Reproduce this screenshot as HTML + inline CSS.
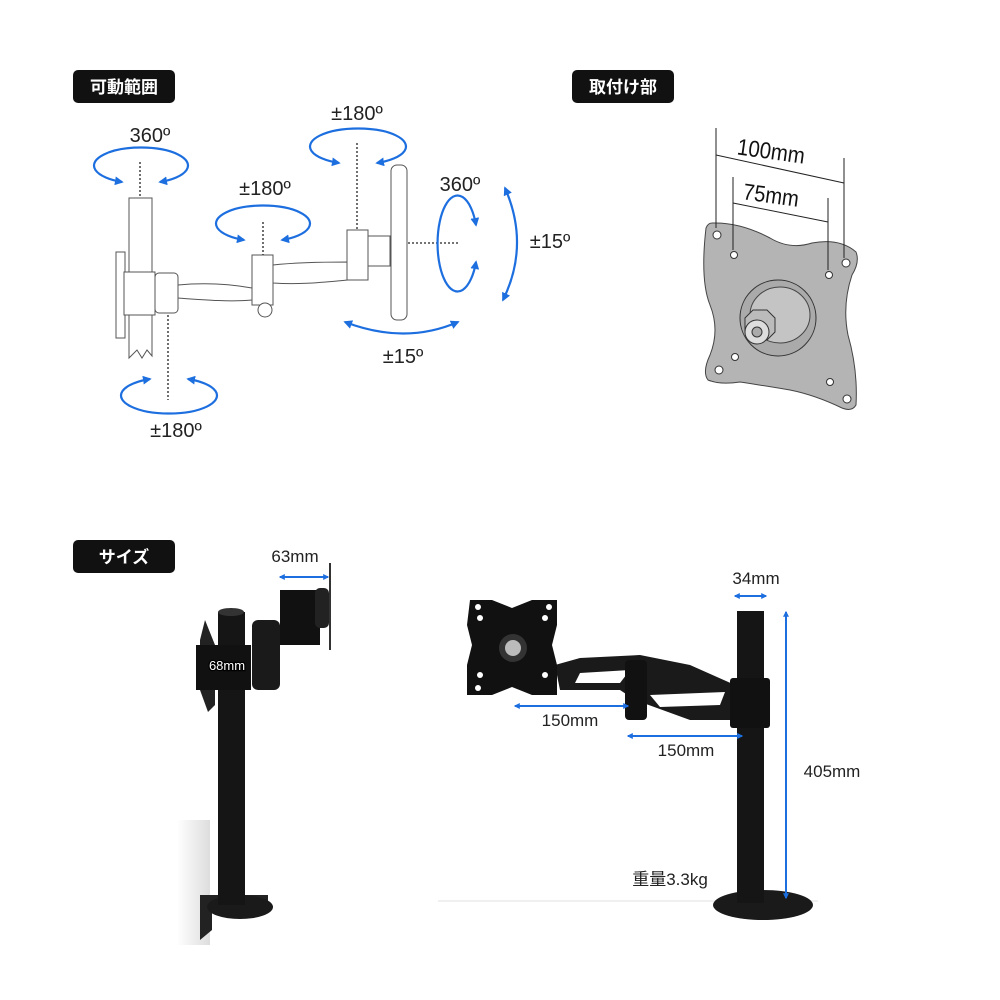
<!DOCTYPE html>
<html><head><meta charset="utf-8"><style>
body{margin:0;background:#fff}
svg{display:block}
text{font-family:"Liberation Sans","Noto Sans CJK JP",sans-serif}
</style></head><body>
<svg width="1000" height="1000" viewBox="0 0 1000 1000" xmlns="http://www.w3.org/2000/svg">
<defs>
<marker id="a" viewBox="0 0 10 10" refX="8" refY="5" markerWidth="4" markerHeight="4" orient="auto-start-reverse"><path d="M0,0L10,5L0,10z" fill="#1d6fe0"/></marker>
<marker id="s" viewBox="0 0 10 10" refX="8" refY="5" markerWidth="3" markerHeight="3" orient="auto-start-reverse"><path d="M0,0L10,5L0,10z" fill="#1d6fe0"/></marker>
<linearGradient id="desk" x1="0" x2="1"><stop offset="0" stop-color="#fff"/><stop offset="1" stop-color="#ddd"/></linearGradient>
</defs>
<g font-weight="bold" font-size="17" fill="#fff">
<rect x="73" y="70" width="102" height="33" rx="5" fill="#111"/><text x="124" y="93" text-anchor="middle">可動範囲</text>
<rect x="572" y="70" width="102" height="33" rx="5" fill="#111"/><text x="623" y="93" text-anchor="middle">取付け部</text>
<rect x="73" y="540" width="102" height="33" rx="5" fill="#111"/><text x="124" y="563" text-anchor="middle">サイズ</text>
</g>
<g fill="#fff" stroke="#555" stroke-width="1">
<path d="M129,198H152V356L147,350L142,358L137,350L129,358Z"/>
<rect x="116" y="252" width="9" height="86"/>
<rect x="124" y="272" width="31" height="43"/>
<rect x="155" y="273" width="23" height="40" rx="4"/>
<path d="M178,285C210,282 235,285 252,288L252,300C230,302 205,300 178,298Z"/>
<rect x="252" y="255" width="21" height="50"/>
<circle cx="265" cy="310" r="7"/>
<path d="M273,265C300,262 330,262 348,262L348,280C325,282 300,285 273,283Z"/>
<rect x="347" y="230" width="21" height="50"/>
<path d="M368,236h22v30h-22z"/>
<rect x="391" y="165" width="16" height="155" rx="6"/>
</g>
<g stroke="#222" stroke-width="1.3" stroke-dasharray="2,2">
<line x1="140" y1="162" x2="140" y2="197"/><line x1="168" y1="315" x2="168" y2="400"/>
<line x1="263" y1="222" x2="263" y2="255"/><line x1="357" y1="143" x2="357" y2="230"/>
<line x1="408" y1="243" x2="458" y2="243"/>
</g>
<g fill="none" stroke="#1d6fe0" stroke-width="2.2" marker-start="url(#a)" marker-end="url(#a)">
<path d="M122,182A47,18 0 1 1 160,182"/>
<path d="M244,240A47,18 0 1 1 282,240"/>
<path d="M339,163A48,18 0 1 1 377,163"/>
<path d="M150,379A48,18 0 1 0 188,379"/>
<path d="M476,225A20,48 0 1 0 476,262"/>
<path d="M505,188Q530,245 503,300"/>
<path d="M345,322Q405,345 458,322"/>
</g>
<g font-size="20" fill="#222">
<text x="150" y="142" text-anchor="middle">360º</text>
<text x="265" y="195" text-anchor="middle">±180º</text>
<text x="357" y="120" text-anchor="middle">±180º</text>
<text x="176" y="437" text-anchor="middle">±180º</text>
<text x="460" y="191" text-anchor="middle">360º</text>
<text x="550" y="248" text-anchor="middle">±15º</text>
<text x="403" y="363" text-anchor="middle">±15º</text>
</g>
<!-- VESA plate -->
<path d="M712,223Q740,222 770,238Q790,250 812,243Q840,238 856,252Q860,262 852,275Q842,305 848,335Q858,370 856,405Q852,412 842,408Q815,395 790,390Q760,385 740,382Q720,385 708,380Q702,372 710,355Q720,330 710,305Q700,280 706,228Q708,223 712,223Z" fill="#b4b4b4" stroke="#444"/>
<g fill="#fff" stroke="#333"><circle cx="717" cy="235" r="4"/><circle cx="846" cy="263" r="4"/><circle cx="734" cy="255" r="3.5"/><circle cx="829" cy="275" r="3.5"/><circle cx="719" cy="370" r="4"/><circle cx="847" cy="399" r="4"/><circle cx="735" cy="357" r="3.5"/><circle cx="830" cy="382" r="3.5"/></g>
<ellipse cx="778" cy="318" rx="38" ry="38" fill="#aaa" stroke="#333"/>
<ellipse cx="780" cy="315" rx="30" ry="28" fill="#c4c4c4" stroke="#444"/>
<path d="M745,318l8,-8h14l8,8v14l-8,8h-14l-8,-8z" fill="#bbb" stroke="#333"/>
<circle cx="757" cy="332" r="12" fill="#ddd" stroke="#333"/>
<circle cx="757" cy="332" r="5" fill="#aaa" stroke="#333"/>
<g stroke="#222" stroke-width="1"><line x1="716" y1="128" x2="716" y2="228"/><line x1="844" y1="158" x2="844" y2="258"/><line x1="733" y1="177" x2="733" y2="250"/><line x1="828" y1="198" x2="828" y2="270"/><line x1="716" y1="155" x2="844" y2="183"/><line x1="733" y1="203" x2="828" y2="222"/></g>
<text x="770" y="159" font-size="23" fill="#111" text-anchor="middle" transform="rotate(8 770 159)" textLength="68" lengthAdjust="spacingAndGlyphs">100mm</text>
<text x="770" y="203" font-size="23" fill="#111" text-anchor="middle" transform="rotate(8 770 203)" textLength="56" lengthAdjust="spacingAndGlyphs">75mm</text>
<!-- bottom left -->
<rect x="177" y="820" width="33" height="125" fill="url(#desk)"/>
<path d="M200,895H268V905H212V930L200,940Z" fill="#222"/>
<ellipse cx="240" cy="907" rx="33" ry="12" fill="#1a1a1a"/>
<rect x="218" y="612" width="27" height="293" fill="#151515"/>
<ellipse cx="231" cy="612" rx="13" ry="4" fill="#333"/>
<path d="M205,620L215,645L215,705L208,712L200,690L200,640Z" fill="#222"/>
<rect x="196" y="645" width="55" height="45" fill="#111"/>
<rect x="252" y="620" width="28" height="70" rx="6" fill="#1a1a1a"/>
<rect x="280" y="590" width="40" height="55" fill="#111"/>
<rect x="315" y="588" width="14" height="40" rx="5" fill="#222"/>
<line x1="330" y1="563" x2="330" y2="650" stroke="#333" stroke-width="2"/>
<text x="227" y="670" font-size="13" fill="#fff" stroke="#000" stroke-width="2.5" paint-order="stroke" text-anchor="middle">68mm</text>
<line x1="280" y1="577" x2="328" y2="577" stroke="#1d6fe0" stroke-width="2" marker-start="url(#s)" marker-end="url(#s)"/>
<text x="295" y="562" font-size="17" fill="#222" text-anchor="middle">63mm</text>
<!-- bottom right -->
<rect x="438" y="900" width="380" height="2" fill="#f0f0f0"/>
<ellipse cx="763" cy="905" rx="50" ry="15" fill="#1a1a1a"/>
<rect x="737" y="611" width="27" height="292" fill="#151515"/>
<path d="M555,665L580,658L640,655L690,665L735,685L735,720L690,720L635,700L620,690L560,690Z" fill="#1a1a1a"/>
<path d="M580,673L630,670L620,683L575,683Z" fill="#fff"/>
<path d="M650,695L725,692L720,705L660,707Z" fill="#fff"/>
<rect x="625" y="660" width="22" height="60" rx="4" fill="#111"/>
<rect x="730" y="678" width="40" height="50" rx="3" fill="#111"/>
<path d="M470,600h22l20,8l20,-8h25v25l-5,20l5,20v30h-25l-20,-8l-20,8h-25v-30l5,-20l-5,-20z" fill="#111"/>
<g fill="#fff"><circle cx="478" cy="607" r="3"/><circle cx="549" cy="607" r="3"/><circle cx="480" cy="618" r="3"/><circle cx="545" cy="618" r="3"/><circle cx="480" cy="675" r="3"/><circle cx="545" cy="675" r="3"/><circle cx="478" cy="688" r="3"/></g>
<circle cx="513" cy="648" r="14" fill="#333"/><circle cx="513" cy="648" r="8" fill="#bbb"/>
<g stroke="#1d6fe0" stroke-width="2" marker-start="url(#s)" marker-end="url(#s)">
<line x1="735" y1="596" x2="766" y2="596"/>
<line x1="515" y1="706" x2="628" y2="706"/>
<line x1="628" y1="736" x2="742" y2="736"/>
<line x1="786" y1="612" x2="786" y2="898"/>
</g>
<g font-size="17" fill="#222">
<text x="756" y="584" text-anchor="middle">34mm</text>
<text x="570" y="726" text-anchor="middle">150mm</text>
<text x="686" y="756" text-anchor="middle">150mm</text>
<text x="832" y="777" text-anchor="middle">405mm</text>
<text x="670" y="885" text-anchor="middle">重量3.3kg</text>
</g>
</svg>
</body></html>
